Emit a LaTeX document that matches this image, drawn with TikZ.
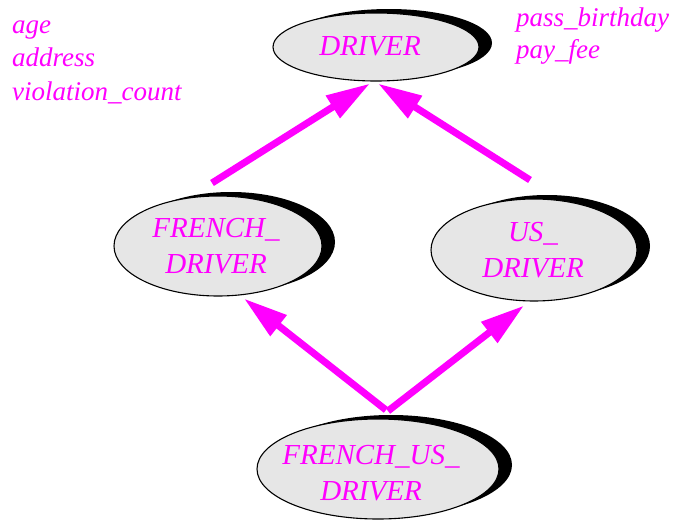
\documentclass[tikz,border=0pt]{standalone}
\usepackage{fontspec}
\setmainfont{Liberation Serif}
\usetikzlibrary{shapes.geometric,shadows,arrows.meta}
\definecolor{mag}{HTML}{FF00FF}
\definecolor{ellfill}{HTML}{E6E6E6}
\tikzset{
  classell/.style={ellipse, draw=black, line width=1.1pt, fill=ellfill,
    inner sep=0pt,
    general shadow={fill=black, shadow xshift=13pt, shadow yshift=4pt}},
  ctext/.style={text=mag, font=\itshape\fontsize{29}{36}\selectfont, align=center, inner sep=0pt},
  ltext/.style={text=mag, font=\itshape\fontsize{27}{33}\selectfont, anchor=base west, inner sep=0pt},
  inherit/.style={draw=mag, line width=7pt, -{Triangle[length=44pt,width=25pt]}}
}
\begin{document}
\begin{tikzpicture}[x=1pt,y=-1pt]
\useasboundingbox (0,0) rectangle (675,522);
% ellipses
\node[classell, minimum width=206pt, minimum height=68pt] (driver) at (376,47) {};
\node[classell, minimum width=208pt, minimum height=100pt] (french) at (218,246) {};
\node[classell, minimum width=206pt, minimum height=102pt] (us) at (534,250) {};
\node[classell, minimum width=242pt, minimum height=100pt] (fus) at (378,469) {};
% texts
\node[ctext] (drivert) at (370,46) {DRIVER};
\node[ctext] (frencht) at (216,246) {FRENCH\_\\DRIVER};
\node[ctext] (ust) at (533,250) {US\_\\DRIVER};
\node[ctext] (fust) at (371,473) {FRENCH\_US\_\\DRIVER};
% feature labels
\node[ltext] (age) at (12,33) {age};
\node[ltext] (address) at (12,66) {address};
\node[ltext] (viol) at (12,100) {violation\_count};
\node[ltext] (pass) at (516,27) {pass\_birthday};
\node[ltext] (pay) at (516,58) {pay\_fee};
% arrows
\coordinate (t1) at (212,183);
\coordinate (t2) at (530,180);
\coordinate (t3) at (386,410);
\coordinate (t4) at (388,411);
\draw[inherit] (t1) -- ([xshift=-6pt,yshift=-2pt]driver.south);
\draw[inherit] (t2) -- ([xshift=2pt,yshift=-2pt]driver.south);
\draw[inherit] (t3) -- ([xshift=26pt,yshift=-2pt]french.south);
\draw[inherit] (t4) -- ([xshift=-10pt,yshift=-4pt]us.south);
\end{tikzpicture}
\end{document}
